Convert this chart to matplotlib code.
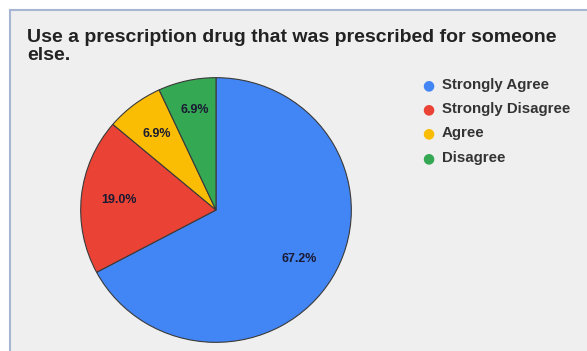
import matplotlib
matplotlib.use("Agg")
import matplotlib.pyplot as plt
from matplotlib.patches import Rectangle
from matplotlib.lines import Line2D

categories = ["Strongly Agree", "Strongly Disagree", "Agree", "Disagree"]
values = [67.2, 19.0, 6.9, 6.9]
colors = ["#4285f4", "#ea4335", "#fbbc04", "#34a853"]
title_lines = ["Use a prescription drug that was prescribed for someone", "else."]

W, H = 587, 351
fig = plt.figure(figsize=(W / 100, H / 100), dpi=100)
fig.patch.set_facecolor("white")

# card background with thin border on top and left
fig.patches.append(Rectangle((10 / W, 0), 1, (H - 10) / H, transform=fig.transFigure,
                             facecolor="#efefef", edgecolor="none", zorder=-5))
fig.lines.append(Line2D([10 / W, 1], [(H - 10) / H] * 2, transform=fig.transFigure,
                        color="#a9b6d3", lw=1.5, zorder=-4))
fig.lines.append(Line2D([10 / W] * 2, [0, (H - 10) / H], transform=fig.transFigure,
                        color="#a9b6d3", lw=1.5, zorder=-4))

for line, y in zip(title_lines, [38, 55]):
    fig.text(27 / W, 1 - y / H, line, fontsize=14, fontweight="bold",
             family="Liberation Sans", color="#222222", va="center", ha="left")

# pie axes: slightly wider than tall
cx, cy, rx, ry = 216, 210, 136, 133
ax = fig.add_axes([(cx - rx) / W, 1 - (cy + ry) / H, 2 * rx / W, 2 * ry / H])
ax.set_facecolor("none")
wedges, texts, autotexts = ax.pie(
    values, colors=colors, startangle=90, counterclock=False,
    autopct="%.1f%%", pctdistance=0.72, radius=1.0,
    wedgeprops=dict(edgecolor="#3a3a3a", linewidth=0.8),
    textprops=dict(fontsize=9, fontweight="bold", family="Liberation Sans", color="#1a1a33"))
# nudge the small green label toward the rim
autotexts[3].set_position((autotexts[3].get_position()[0], autotexts[3].get_position()[1] * 1.08))
ax.set_xlim(-1.005, 1.005)
ax.set_ylim(-1.005, 1.005)
ax.set_aspect("auto")
ax.axis("off")

# legend
ys = [85, 109, 133, 158]
for lab, col, y in zip(categories, colors, ys):
    fig.text(428 / W, 1 - y / H, "\u25cf", color=col, fontsize=10, va="center", ha="center",
             family="DejaVu Sans")
    fig.text(442 / W, 1 - y / H, lab, color="#333333", fontsize=10.8, fontweight="bold",
             va="center", ha="left", family="Liberation Sans")

fig.savefig("out.png", dpi=100)
